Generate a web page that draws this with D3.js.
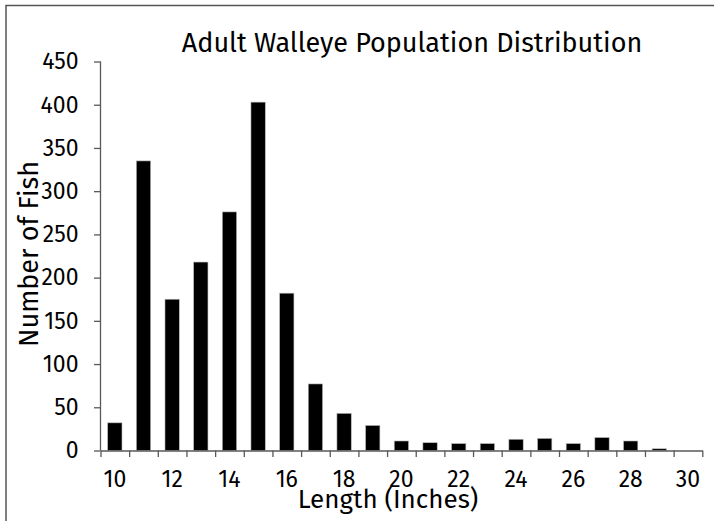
<!DOCTYPE html>
<html><head><meta charset="utf-8">
<script src="https://cdn.jsdelivr.net/npm/d3@7"></script>
<style>body{margin:0;background:#fff}svg{display:block}text{font-family:"Fira Sans","Open Sans",sans-serif}</style>
</head><body><svg id="c" width="714" height="521"></svg>
<script>
const lengths = [10,11,12,13,14,15,16,17,18,19,20,21,22,23,24,25,26,27,28,29,30];
const counts  = [32,335,175,218,276,403,182,77,43,29,11,9,8,8,13,14,8,15,11,2,0];
const xTickLabels = [10,12,14,16,18,20,22,24,26,28,30];
const yTicks = [0,50,100,150,200,250,300,350,400,450];
const chartTitle = "Adult Walleye Population Distribution";
const xTitle = "Length (Inches)";
const yTitle = "Number of Fish";

(function(){
const svg = d3.select("#c");
const mLeft = 100.5, mRight = 702.3, mBottom = 450.5, mTop = 61.5;
const axisColor = "#595959";

svg.append("path").attr("d","M6,530V5.5H720").attr("fill","none").attr("stroke","#555").attr("stroke-width",1.5);

const x = d3.scaleBand().domain(lengths).range([mLeft, mRight]).paddingInner(0.5).paddingOuter(0.25);
const xb = d3.scaleLinear().domain([9.5, 30.5]).range([mLeft, mRight]);
const y = d3.scaleLinear().domain([0, 450]).range([mBottom, mTop]);

svg.append("g").selectAll("rect").data(lengths).join("rect")
  .attr("x", d => x(d)).attr("width", x.bandwidth())
  .attr("y", (d,i) => y(counts[i])).attr("height", (d,i) => y(0) - y(counts[i]))
  .attr("fill", "#000").attr("stroke","#bbb").attr("stroke-width",0.6);

const yAxis = svg.append("g").attr("transform", `translate(${mLeft},0)`)
  .call(d3.axisLeft(y).tickValues(yTicks).tickSize(6.5).tickPadding(15.5));
const xAxis = svg.append("g").attr("transform", `translate(0,${mBottom})`)
  .call(d3.axisBottom(xb).tickValues(d3.range(9.5, 30.6, 1)).tickSize(6.5).tickFormat("").tickSizeOuter(0));
const xLab = svg.append("g").attr("transform", `translate(0,${mBottom})`)
  .call(d3.axisBottom(x).tickValues(xTickLabels).tickSize(0).tickPadding(20));
xLab.select(".domain").remove();
[yAxis, xAxis].forEach(g => { g.selectAll("line,path").attr("stroke", axisColor).attr("stroke-width",1.3); });
yAxis.select(".domain").attr("d", `M-0,${mBottom}V${mTop}`);
svg.selectAll(".tick text").attr("font-size", 23).attr("fill", "#000").attr("font-family", '"Fira Sans","Open Sans",sans-serif');

svg.append("text").attr("x", 412).attr("y", 52).attr("text-anchor","middle").attr("font-size", 27).text(chartTitle);
svg.append("text").attr("x", 388).attr("y", 508).attr("text-anchor","middle").attr("font-size", 26).text(xTitle);
svg.append("text").attr("transform","translate(38,254) rotate(-90)").attr("text-anchor","middle").attr("font-size", 27).text(yTitle);
})();
</script></body></html>
